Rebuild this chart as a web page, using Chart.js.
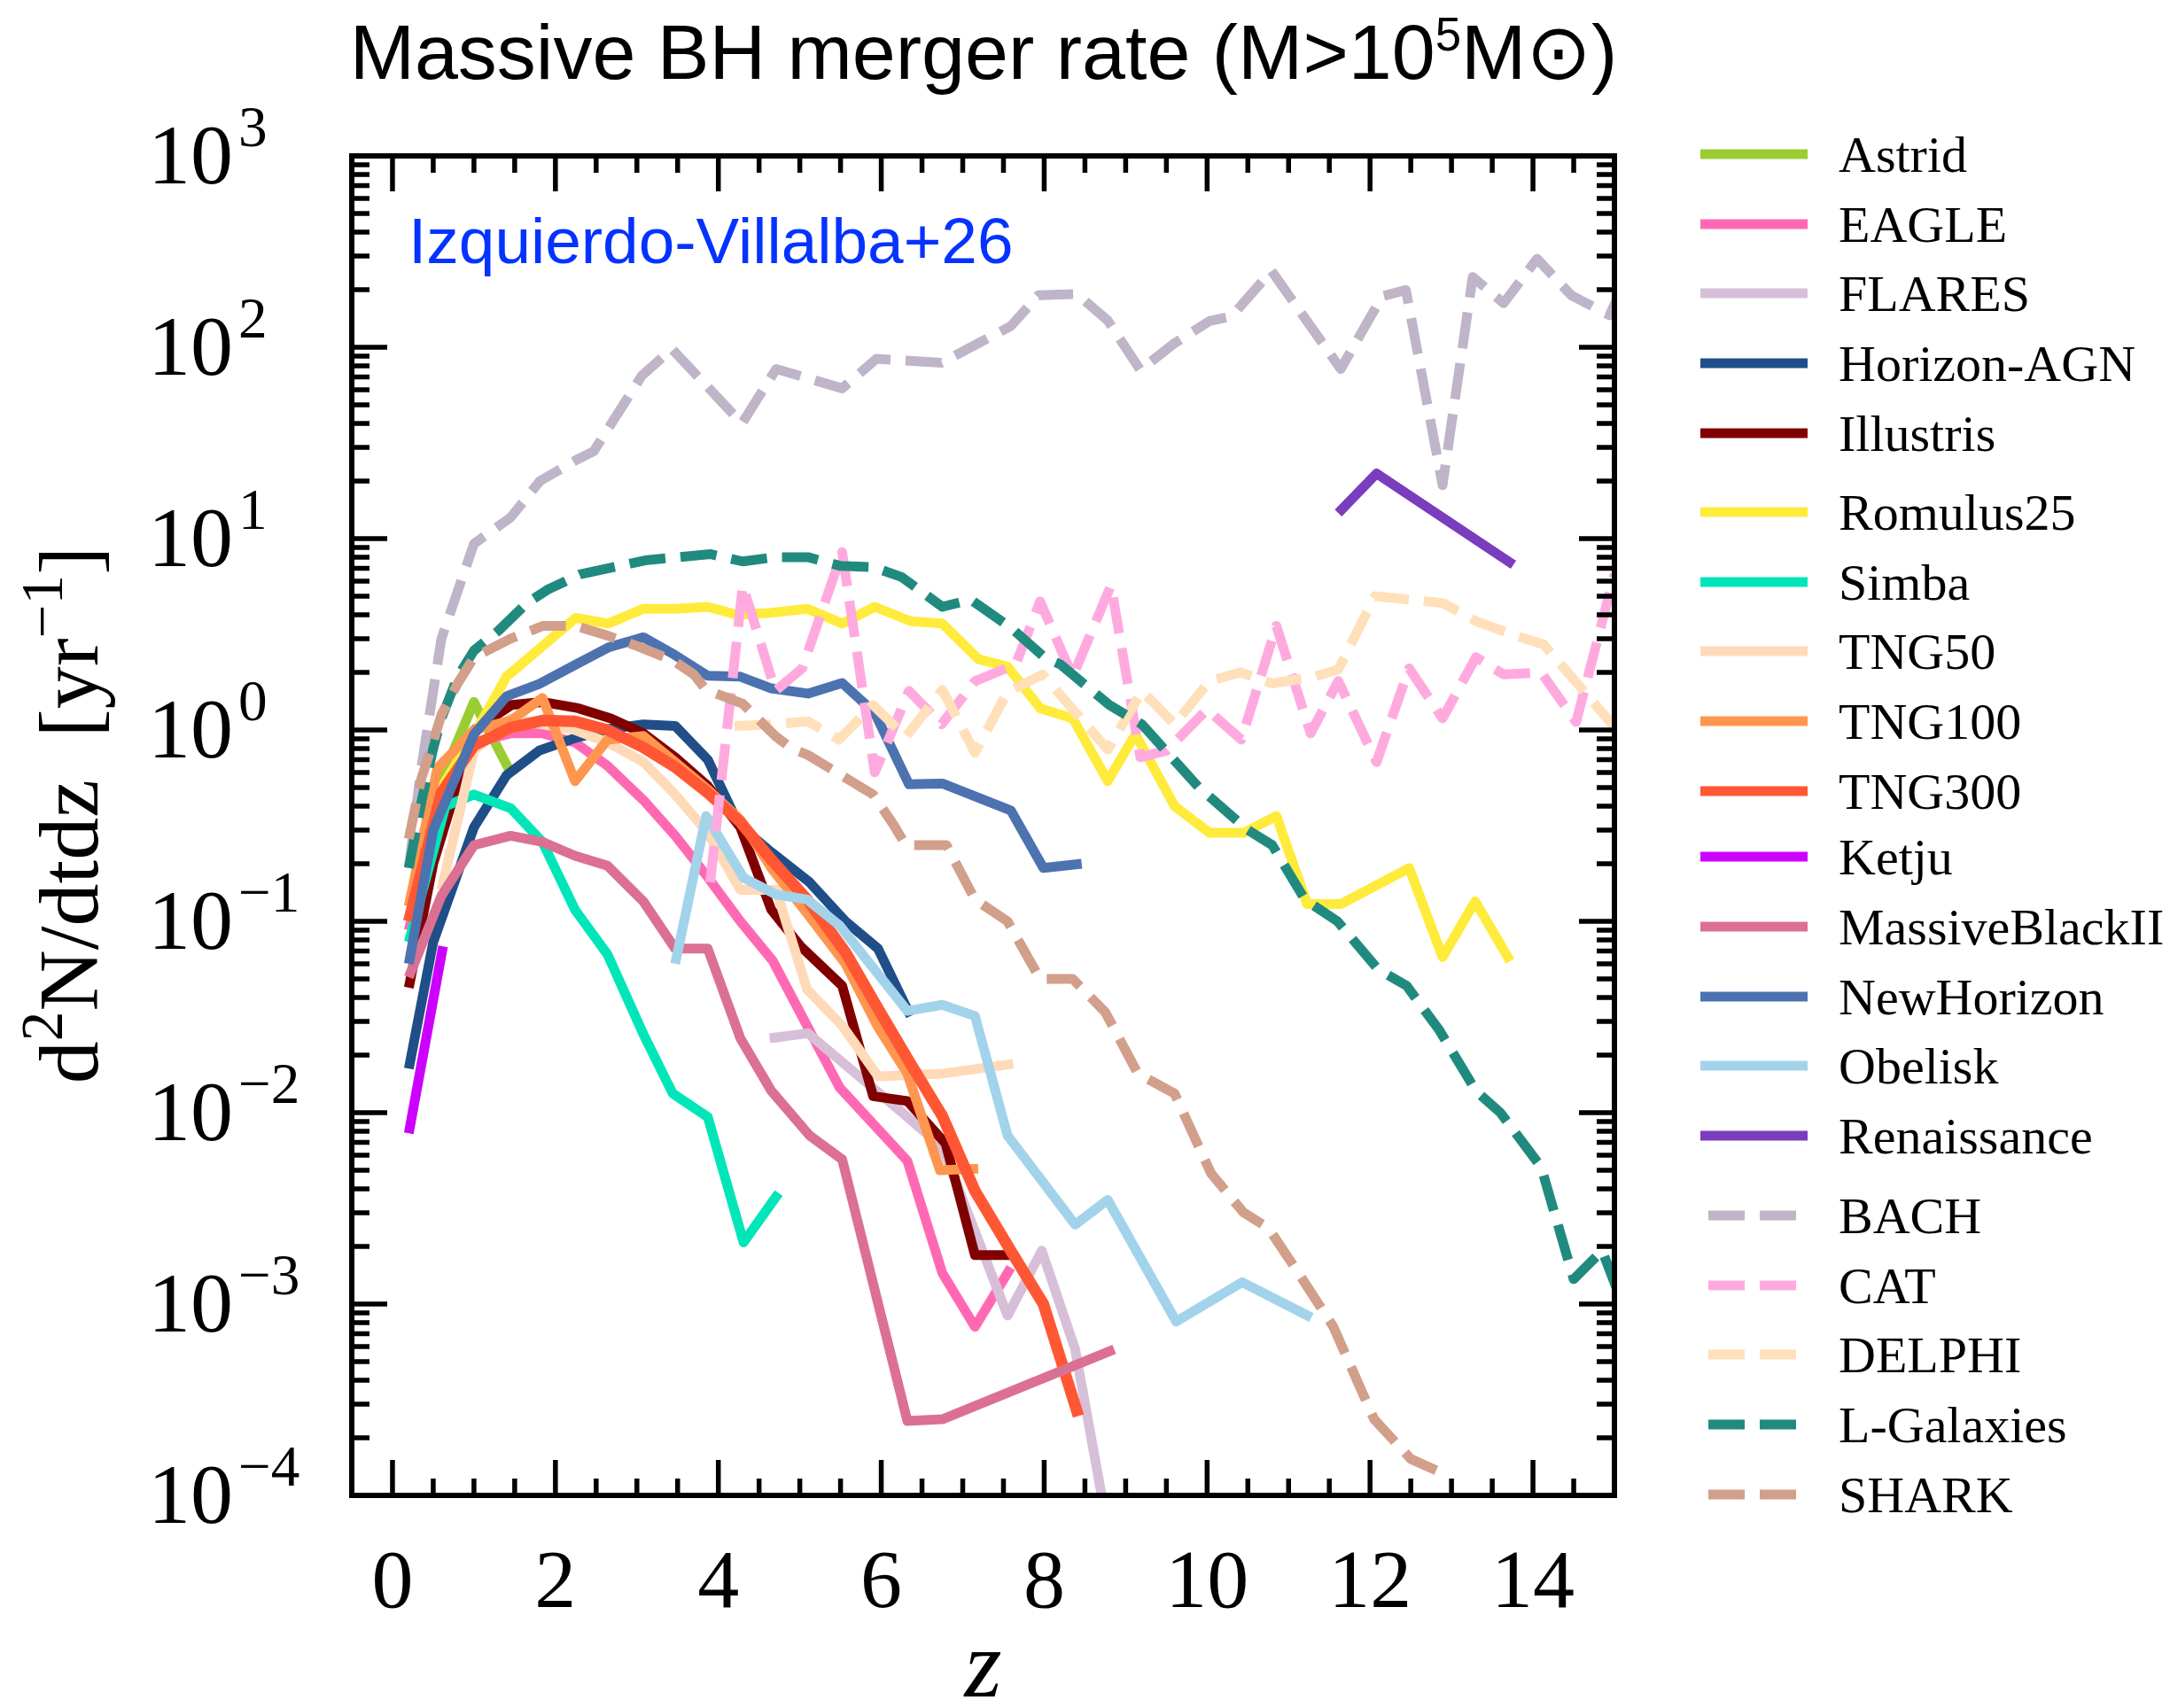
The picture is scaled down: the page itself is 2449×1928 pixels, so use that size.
<!DOCTYPE html>
<html>
<head>
<meta charset="utf-8">
<script src="https://cdn.jsdelivr.net/npm/chart.js@4.4.1/dist/chart.umd.min.js"></script>
<style>
  html, body { margin: 0; padding: 0; background: #ffffff; }
  canvas { display: block; }
</style>
</head>
<body>
<canvas id="rate" width="2449" height="1928"></canvas>
<script>
// Merger rate d2N/dtdz [1/yr] against redshift z, one [z, rate] list per model.
const astrid = [[0.2,0.12],[0.6,0.55],[1.0,1.4],[1.45,0.6]];
const eagle = [[0.2,0.09],[0.6,0.5],[1.05,0.87],[1.45,0.96],[1.84,0.96],[2.24,0.86],[2.64,0.65],[3.08,0.43],[3.47,0.28],[3.87,0.17],[4.27,0.1],[4.67,0.062],[5.49,0.0135],[6.32,0.0056],[6.75,0.00145],[7.15,0.00076],[7.59,0.00155]];
const flares = [[4.63,0.0245],[5.1,0.026],[6.32,0.0095],[6.75,0.0066],[7.55,0.00087],[7.97,0.0019],[8.38,0.00058],[8.8,0.00006]];
const horizonAGN = [[0.2,0.017],[0.5,0.078],[1.0,0.31],[1.4,0.58],[1.8,0.78],[2.25,0.91],[2.65,1.01],[3.08,1.07],[3.47,1.05],[3.87,0.70],[4.25,0.32],[4.65,0.23],[5.12,0.16],[5.56,0.10],[5.96,0.072],[6.36,0.032]];
const illustris = [[0.2,0.045],[0.5,0.2],[1.0,1.0],[1.46,1.35],[1.84,1.4],[2.28,1.3],[2.68,1.15],[3.08,0.96],[3.47,0.72],[3.87,0.51],[4.27,0.31],[4.65,0.115],[5.01,0.074],[5.52,0.046],[5.9,0.0122],[6.32,0.0115],[6.79,0.0069],[7.15,0.0018],[7.59,0.0018]];
const romulus25 = [[0.2,0.1],[0.6,0.5],[1.05,1.03],[1.4,1.9],[2.25,3.85],[2.65,3.6],[3.08,4.3],[3.47,4.3],[3.87,4.4],[4.23,4.0],[4.65,4.1],[5.09,4.3],[5.52,3.6],[5.92,4.4],[6.36,3.7],[6.75,3.6],[7.19,2.35],[7.55,2.14],[7.95,1.3],[8.35,1.15],[8.78,0.54],[9.12,0.95],[9.6,0.40],[10.03,0.29],[10.45,0.29],[10.85,0.355],[11.23,0.123],[11.64,0.123],[12.48,0.19],[12.89,0.065],[13.29,0.127],[13.72,0.062]];
const simba = [[0.2,0.078],[0.65,0.40],[1.0,0.46],[1.45,0.39],[1.84,0.26],[2.24,0.115],[2.64,0.067],[3.08,0.0257],[3.44,0.0126],[3.87,0.0095],[4.31,0.0021],[4.74,0.0038]];
const tng50 = [[0.6,0.146],[1.0,0.78],[1.45,1.15],[1.84,1.07],[2.24,1.0],[2.64,0.86],[3.08,0.68],[3.47,0.46],[3.87,0.29],[4.27,0.146],[4.71,0.146],[5.09,0.044],[5.52,0.0285],[5.96,0.0155],[6.75,0.016],[7.62,0.018]];
const tng100 = [[0.2,0.12],[0.55,0.63],[1.0,1.0],[1.45,1.12],[1.84,1.47],[2.24,0.54],[2.64,0.89],[3.08,0.93],[3.47,0.68],[3.87,0.49],[4.27,0.34],[4.65,0.19],[5.09,0.11],[5.56,0.06],[5.96,0.028],[6.32,0.016],[6.72,0.005],[7.19,0.0051]];
const tng300 = [[0.2,0.1],[0.6,0.47],[1.0,0.83],[1.45,1.03],[1.84,1.12],[2.24,1.11],[2.64,1.0],[3.08,0.81],[3.47,0.64],[3.87,0.47],[4.27,0.33],[4.65,0.21],[5.09,0.13],[5.56,0.069],[5.96,0.035],[6.36,0.018],[6.75,0.0096],[7.15,0.0039],[7.59,0.0019],[7.99,0.001],[8.42,0.00026]];
const ketju = [[0.2,0.0078],[0.62,0.074]];
const massiveBlackII = [[0.2,0.051],[0.6,0.136],[1.0,0.25],[1.45,0.28],[1.84,0.26],[2.24,0.22],[2.64,0.195],[3.08,0.127],[3.47,0.072],[3.87,0.072],[4.27,0.0245],[4.65,0.013],[5.12,0.0076],[5.52,0.0057],[6.32,0.000245],[6.75,0.00025],[8.86,0.00058]];
const newHorizon = [[0.2,0.06],[0.5,0.3],[1.0,0.95],[1.4,1.5],[1.8,1.74],[2.25,2.2],[2.65,2.7],[3.08,3.05],[3.47,2.46],[3.87,1.92],[4.27,1.9],[4.65,1.65],[5.1,1.55],[5.52,1.76],[5.92,1.23],[6.34,0.52],[6.75,0.525],[7.59,0.38],[7.99,0.19],[8.46,0.20]];
const obelisk = [[3.47,0.06],[3.85,0.355],[4.31,0.169],[4.71,0.138],[5.09,0.13],[5.49,0.095],[6.32,0.034],[6.75,0.0366],[7.15,0.032],[7.55,0.0076],[8.38,0.0026],[8.78,0.0035],[9.62,0.00081],[10.43,0.0013],[11.28,0.00085]];
const renaissance = [[11.61,13.6],[12.08,21.9],[13.76,7.3]];
const bach = [[0.2,0.19],[0.35,0.62],[0.6,3.0],[1.0,9.4],[1.45,12.9],[1.81,20],[2.25,25.7],[2.47,28.6],[3.06,71],[3.43,98],[4.29,40],[4.71,77],[5.52,61],[5.94,87],[6.74,83],[7.59,129],[7.93,187],[8.4,190],[8.78,138],[9.18,76],[9.6,105],[10.03,137],[10.3,145],[10.79,251],[11.64,77],[12.15,185],[12.44,199],[12.89,19],[13.26,233],[13.64,170],[14.05,290],[14.47,187],[14.94,147],[15.3,320]];
const cat = [[3.9,0.16],[4.3,5.7],[4.7,1.6],[5.03,2.1],[5.52,8.5],[5.92,0.6],[6.34,1.6],[6.74,1.07],[7.15,1.8],[7.65,2.2],[7.95,4.7],[8.35,1.9],[8.82,5.7],[9.18,0.72],[9.5,0.78],[10.0,1.28],[10.42,0.89],[10.85,3.5],[11.27,0.96],[11.61,1.8],[12.08,0.68],[12.48,2.1],[12.89,1.15],[13.3,2.4],[13.64,1.95],[14.1,2.0],[14.53,1.1],[15.0,6.5],[15.2,12]];
const delphi = [[4.2,1.05],[4.7,1.07],[5.1,1.11],[5.48,0.89],[5.9,1.35],[6.3,0.92],[6.75,1.62],[7.15,0.76],[7.55,1.58],[7.98,1.95],[8.78,0.79],[9.2,1.6],[9.6,1.07],[10.03,1.8],[10.41,2.0],[10.8,1.75],[11.32,1.9],[11.61,2.07],[12.06,5.0],[12.6,4.75],[12.9,4.6],[13.3,3.7],[13.8,3.1],[14.13,2.8],[14.95,1.1],[15.2,0.8]];
const lGalaxies = [[0.2,0.19],[0.36,0.43],[0.5,0.8],[0.6,1.15],[0.8,1.9],[1.0,2.6],[1.3,3.3],[1.65,4.6],[1.9,5.4],[2.3,6.5],[3.1,7.7],[3.9,8.3],[4.3,7.6],[4.7,8.0],[5.1,8.0],[5.5,7.2],[5.9,7.1],[6.25,6.3],[6.75,4.4],[7.1,4.8],[7.6,3.4],[8.0,2.4],[8.2,2.2],[8.8,1.35],[9.2,1.07],[9.9,0.5],[10.5,0.3],[10.8,0.25],[11.2,0.13],[11.6,0.1],[12.1,0.056],[12.45,0.046],[12.85,0.027],[13.3,0.013],[13.6,0.01],[14.1,0.0052],[14.5,0.00135],[14.85,0.0019],[15.1,0.001]];
const shark = [[0.2,0.27],[0.35,0.55],[0.5,0.87],[0.6,1.2],[0.8,1.75],[1.0,2.4],[1.45,3.0],[1.85,3.5],[2.25,3.5],[2.65,3.1],[3.0,2.75],[3.45,2.3],[3.7,1.95],[3.85,1.62],[4.3,1.37],[4.7,0.93],[4.9,0.8],[5.1,0.74],[5.6,0.55],[5.9,0.46],[6.15,0.32],[6.3,0.25],[6.8,0.25],[7.15,0.13],[7.55,0.10],[7.95,0.05],[8.35,0.05],[8.75,0.0335],[9.15,0.016],[9.6,0.0126],[10.05,0.0048],[10.45,0.003],[10.75,0.0025],[11.1,0.0015],[11.55,0.00076],[12.05,0.00025],[12.5,0.000155],[12.9,0.00013]];

// Models in legend order; the last ones (semi-analytic) are dashed.
const modelNames = ['Astrid','EAGLE','FLARES','Horizon-AGN','Illustris','Romulus25','Simba','TNG50','TNG100','TNG300','Ketju','MassiveBlackII','NewHorizon','Obelisk','Renaissance','BACH','CAT','DELPHI','L-Galaxies','SHARK'];
const modelSeries = [astrid, eagle, flares, horizonAGN, illustris, romulus25, simba, tng50, tng100, tng300, ketju, massiveBlackII, newHorizon, obelisk, renaissance, bach, cat, delphi, lGalaxies, shark];
const modelColors = ['#9ACD32','#FF69B4','#D8BFD8','#1F4E89','#800000','#FFEB3B','#00E6B8','#FFDAB9','#FF964F','#FF5733','#CC00FF','#DB7093','#4C72B0','#A3D3EB','#7A3DBD','#BFB4C8','#FFAADF','#FFE0BA','#218A7F','#D29F8B'];
const dashedModels = ['BACH','CAT','DELPHI','L-Galaxies','SHARK'];

// Axis ticks
const xMajorTicks = [0, 2, 4, 6, 8, 10, 12, 14];
const yExponents = [-4, -3, -2, -1, 0, 1, 2, 3];

const SERIF = '"Liberation Serif", "DejaVu Serif", serif';
const SANS = '"Liberation Sans", "DejaVu Sans", sans-serif';
const W = 2449, H = 1928;
const AREA = { left: 397, top: 176, right: 1822, bottom: 1688 };
const LEGEND_Y = [174, 253, 331, 410, 489, 578, 657, 735, 814, 893, 967, 1046, 1125, 1203, 1282, 1372, 1451, 1529, 1608, 1687];

function lineWidthFor(name) { return name === 'TNG300' ? 13 : 11; }

const datasets = modelNames.map((name, i) => ({
  label: name,
  data: modelSeries[i].map(([z, r]) => ({ x: z, y: r })),
  borderColor: modelColors[i],
  backgroundColor: modelColors[i],
  borderWidth: lineWidthFor(name),
  borderDash: dashedModels.includes(name) ? [41, 17] : [],
  borderCapStyle: 'butt',
  borderJoinStyle: 'round',
  pointRadius: 0,
  pointHoverRadius: 0,
  fill: false,
  tension: 0,
  clip: 0,
  order: modelNames.length - i
}));

// Writes a run of text pieces where some pieces are superscripts.
function richText(ctx, parts, x, y, align, size, family, supScale, riseScale) {
  const supSize = size * (supScale || 0.7), rise = size * (riseScale || 0.42);
  const widths = parts.map(p => {
    ctx.font = `${p.sup ? supSize : size}px ${family}`;
    return ctx.measureText(p.t).width + (p.gap || 0);
  });
  const total = widths.reduce((a, b) => a + b, 0);
  let cx = align === 'right' ? x - total : align === 'center' ? x - total / 2 : x;
  ctx.textAlign = 'left';
  ctx.textBaseline = 'alphabetic';
  parts.forEach((p, i) => {
    ctx.font = `${p.sup ? supSize : size}px ${family}`;
    ctx.fillText(p.t, cx + (p.gap || 0), p.sup ? y - rise : y);
    cx += widths[i];
  });
  return total;
}

const framePlugin = {
  id: 'frame',
  afterDatasetsDraw(chart) {
    const { ctx, chartArea: a, scales: { x, y } } = chart;
    ctx.save();
    ctx.strokeStyle = '#000';
    ctx.fillStyle = '#000';

    // inward ticks on all four sides
    ctx.lineCap = 'butt';
    ctx.lineWidth = 5.5;
    const vTick = (px, len) => {
      ctx.beginPath();
      ctx.moveTo(px, a.bottom); ctx.lineTo(px, a.bottom - len);
      ctx.moveTo(px, a.top); ctx.lineTo(px, a.top + len);
      ctx.stroke();
    };
    const hTick = (py, len) => {
      ctx.beginPath();
      ctx.moveTo(a.left, py); ctx.lineTo(a.left + len, py);
      ctx.moveTo(a.right, py); ctx.lineTo(a.right - len, py);
      ctx.stroke();
    };
    for (let v = 0.5; v < x.max; v += 0.5) {
      const major = xMajorTicks.includes(v);
      vTick(x.getPixelForValue(v), major ? 40 : 19);
    }
    yExponents.forEach(e => {
      hTick(y.getPixelForValue(Math.pow(10, e)), 40);
      if (e < 3) {
        for (let k = 2; k <= 9; k++) hTick(y.getPixelForValue(k * Math.pow(10, e)), 20);
      }
    });
    vTick(x.getPixelForValue(0), 40);

    // axes box
    ctx.lineWidth = 6;
    ctx.strokeRect(a.left, a.top, a.right - a.left, a.bottom - a.top);

    // x tick labels
    ctx.font = `94px ${SERIF}`;
    ctx.textAlign = 'center';
    ctx.textBaseline = 'alphabetic';
    xMajorTicks.forEach(v => ctx.fillText(String(v), x.getPixelForValue(v), 1814));

    // y tick labels, powers of ten
    yExponents.forEach(e => {
      const py = y.getPixelForValue(Math.pow(10, e));
      const ex = e < 0 ? '\u2212' + Math.abs(e) : String(e);
      richText(ctx, [{ t: '10' }, { t: ex, sup: true, gap: 6 }], 167, py + 31, 'left', 96, SERIF, 0.68, 0.44);
    });

    // axis titles
    ctx.font = `italic 108px ${SERIF}`;
    ctx.textAlign = 'center';
    ctx.fillText('z', (a.left + a.right) / 2, 1915);

    ctx.save();
    ctx.translate(110, 920);
    ctx.rotate(-Math.PI / 2);
    richText(ctx, [{ t: 'd' }, { t: '2', sup: true }, { t: 'N/dtdz  [yr' }, { t: '\u22121', sup: true }, { t: ']' }], 0, 0, 'center', 96, SERIF);
    ctx.restore();

    // title
    richText(ctx, [{ t: 'Massive BH merger rate (M>10' }, { t: '5', sup: true }, { t: 'M\u2299)' }], 1110, 89, 'center', 88, SANS, 0.6, 0.36);

    // reference tag inside the axes
    ctx.fillStyle = '#0433FF';
    ctx.font = `73px ${SANS}`;
    ctx.textAlign = 'left';
    ctx.fillText('Izquierdo-Villalba+26', 461, 297);

    // legend
    modelNames.forEach((name, i) => {
      const ly = LEGEND_Y[i];
      ctx.strokeStyle = modelColors[i];
      ctx.lineWidth = 11;
      ctx.lineCap = 'butt';
      ctx.beginPath();
      if (dashedModels.includes(name)) {
        ctx.setLineDash([41, 17]);
        ctx.moveTo(1928, ly); ctx.lineTo(2027, ly);
      } else {
        ctx.setLineDash([]);
        ctx.moveTo(1919, ly); ctx.lineTo(2040, ly);
      }
      ctx.stroke();
      ctx.setLineDash([]);
      ctx.fillStyle = '#000';
      ctx.font = `58px ${SERIF}`;
      ctx.textAlign = 'left';
      ctx.textBaseline = 'alphabetic';
      ctx.fillText(name, 2075, ly + 20);
    });

    ctx.restore();
  }
};

new Chart(document.getElementById('rate'), {
  type: 'line',
  data: { datasets },
  options: {
    responsive: false,
    animation: false,
    devicePixelRatio: 1,
    events: [],
    layout: { padding: { left: AREA.left, top: AREA.top, right: W - AREA.right, bottom: H - AREA.bottom } },
    scales: {
      x: { type: 'linear', min: -0.5, max: 15, display: false },
      y: { type: 'logarithmic', min: 1e-4, max: 1e3, display: false }
    },
    plugins: { legend: { display: false }, tooltip: { enabled: false }, title: { display: false } }
  },
  plugins: [framePlugin]
});
</script>
</body>
</html>
